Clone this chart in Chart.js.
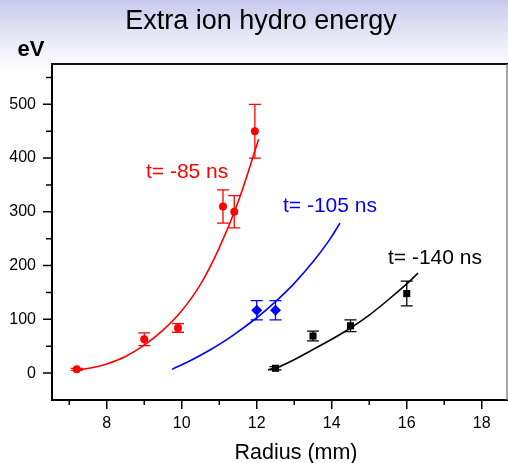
<!DOCTYPE html>
<html>
<head>
<meta charset="utf-8">
<script src="https://cdn.jsdelivr.net/npm/chart.js@4.4.0/dist/chart.umd.min.js"></script>
<style>
  body { margin: 0; background: linear-gradient(#c8c8ee 0px, #e6e6f6 35px, #f7f7fc 58px, #ffffff 75px); }
  canvas { display: block; }
</style>
</head>
<body>
<canvas id="myChart" width="508" height="463"></canvas>
<script>
// measured points (with error bars)
const redX = [7.2, 9.0, 9.9, 11.1, 11.4, 11.95];
const redY = [7, 63, 84, 310, 300, 450];
const redErr = [2, 12, 8, 31, 30, 50];

const blueX = [12.0, 12.5];
const blueY = [117, 117];
const blueErr = [18, 18];

const blackX = [12.5, 13.5, 14.5, 16.0];
const blackY = [9, 69, 88, 148];
const blackErr = [3, 9, 11, 23];

// fitted curves
const redFitX = [7.2, 7.6, 8, 8.5, 9, 9.5, 10, 10.5, 11, 11.5, 12.05];
const redFitY = [6, 10, 17, 31, 52, 80, 116, 165, 233, 318, 435];
const blueFitX = [9.74, 10.25, 10.75, 11.3, 12, 12.5, 13, 13.5, 13.93, 14.22];
const blueFitY = [7, 24, 43, 67, 103, 133, 167, 207, 247, 279];
const blackFitX = [12.3, 12.6, 13, 13.5, 14, 14.5, 15, 15.5, 16, 16.3];
const blackFitY = [6, 12, 25, 44, 63, 84, 108, 136, 166, 186];

const xTicks = [7, 8, 9, 10, 11, 12, 13, 14, 15, 16, 17, 18];
const yTicks = [0, 50, 100, 150, 200, 250, 300, 350, 400, 450, 500, 550];

const seriesLabels = ["t= -85 ns", "t= -105 ns", "t= -140 ns"];
const titleText = "Extra ion hydro energy";
const xTitle = "Radius (mm)";
const yTitle = "eV";

const FONT = "'Liberation Sans', Arial, sans-serif";

const pts = (xs, ys) => xs.map((x, i) => ({ x: x, y: ys[i] }));

const fit = (xs, ys, color) => ({
  data: pts(xs, ys),
  showLine: true,
  borderColor: color,
  borderWidth: 1.6,
  pointRadius: 0,
  pointHoverRadius: 0,
  tension: 0.4,
});

const marks = (xs, ys, errs, color, style, r) => ({
  data: pts(xs, ys),
  errs: errs,
  showLine: false,
  pointStyle: style,
  pointRadius: r,
  backgroundColor: color,
  borderColor: color,
  borderWidth: 0,
});

const overlay = {
  id: "overlay",
  beforeDatasetsDraw(chart) {
    const { ctx, scales: { x, y } } = chart;
    ctx.save();
    chart.data.datasets.forEach((ds) => {
      if (!ds.errs) return;
      ctx.strokeStyle = ds.borderColor;
      ctx.lineWidth = 1.3;
      ds.data.forEach((p, i) => {
        const px = x.getPixelForValue(p.x);
        const y1 = y.getPixelForValue(p.y + ds.errs[i]);
        const y2 = y.getPixelForValue(p.y - ds.errs[i]);
        ctx.beginPath();
        ctx.moveTo(px, y1); ctx.lineTo(px, y2);
        ctx.moveTo(px - 6, y1); ctx.lineTo(px + 6, y1);
        ctx.moveTo(px - 6, y2); ctx.lineTo(px + 6, y2);
        ctx.stroke();
      });
    });
    ctx.restore();
  },
  afterDraw(chart) {
    const { ctx, chartArea: a, scales: { x, y } } = chart;
    ctx.save();
    // frame top / right
    ctx.strokeStyle = "#111";
    ctx.lineWidth = 2;
    ctx.beginPath();
    ctx.moveTo(a.left - 1, a.top); ctx.lineTo(a.right, a.top);
    ctx.stroke();
    ctx.strokeStyle = "#888";
    ctx.lineWidth = 1.5;
    ctx.beginPath();
    ctx.moveTo(a.right - 1, a.top); ctx.lineTo(a.right - 1, a.bottom);
    ctx.stroke();

    // ticks
    ctx.strokeStyle = "#000";
    ctx.lineWidth = 1.5;
    ctx.beginPath();
    x.ticks.forEach((t) => {
      const px = x.getPixelForValue(t.value);
      const len = t.value % 2 === 0 ? 9 : 5;
      ctx.moveTo(px, a.bottom); ctx.lineTo(px, a.bottom + len);
    });
    y.ticks.forEach((t) => {
      const py = y.getPixelForValue(t.value);
      const len = t.value % 100 === 0 ? 9 : 6;
      ctx.moveTo(a.left, py); ctx.lineTo(a.left - len, py);
    });
    ctx.stroke();

    // texts
    ctx.textAlign = "center";
    ctx.textBaseline = "middle";
    ctx.fillStyle = "#000";
    ctx.font = "27px " + FONT;
    ctx.fillText(titleText, 261, 22);
    ctx.font = "21.5px " + FONT;
    ctx.fillText(xTitle, 296, 453);
    ctx.font = "bold 22px " + FONT;
    ctx.fillText(yTitle, 31, 50);

    ctx.textAlign = "left";
    ctx.font = "21px " + FONT;
    ctx.fillStyle = "#ff0000";
    ctx.fillText(seriesLabels[0], 146, 172);
    ctx.fillStyle = "#0000ff";
    ctx.fillText(seriesLabels[1], 283, 206);
    ctx.fillStyle = "#000000";
    ctx.fillText(seriesLabels[2], 388, 258);
    ctx.restore();
  },
};

const config = {
  type: "scatter",
  data: {
    datasets: [
      fit(redFitX, redFitY, "#ff0000"),
      fit(blueFitX, blueFitY, "#0000ff"),
      fit(blackFitX, blackFitY, "#000000"),
      marks(redX, redY, redErr, "#ff0000", "circle", 4),
      marks(blueX, blueY, blueErr, "#0000ff", "rectRot", 5.5),
      marks(blackX, blackY, blackErr, "#000000", "rect", 5),
    ],
  },
  options: {
    responsive: false,
    animation: false,
    layout: { autoPadding: false, padding: { top: 64, left: 0, right: 0, bottom: 0 } },
    plugins: {
      legend: { display: false },
      tooltip: { enabled: false },
      title: { display: false },
    },
    scales: {
      x: {
        type: "linear",
        min: 6.54,
        max: 18.7,
        afterBuildTicks: (s) => { s.ticks = xTicks.map((v) => ({ value: v })); },
        afterFit: (s) => { s.height = 63; s.paddingLeft = 0; s.paddingRight = 0; },
        grid: { drawOnChartArea: false, drawTicks: false },
        border: { display: true, color: "#000", width: 2 },
        ticks: {
          padding: 14,
          color: "#000",
          font: { family: FONT, size: 16 },
          maxRotation: 0,
          autoSkip: false,
          callback: (v) => (v % 2 === 0 ? v : ""),
        },
      },
      y: {
        type: "linear",
        min: -50,
        max: 575,
        afterBuildTicks: (s) => { s.ticks = yTicks.map((v) => ({ value: v })); },
        afterFit: (s) => { s.width = 52; s.paddingTop = 0; s.paddingBottom = 0; },
        grid: { drawOnChartArea: false, drawTicks: false },
        border: { display: true, color: "#000", width: 2 },
        ticks: {
          padding: 16,
          color: "#000",
          font: { family: FONT, size: 16 },
          autoSkip: false,
          callback: (v) => (v % 100 === 0 ? v : ""),
        },
      },
    },
  },
  plugins: [overlay],
};

const myChart = new Chart(document.getElementById("myChart"), config);
</script>
</body>
</html>
